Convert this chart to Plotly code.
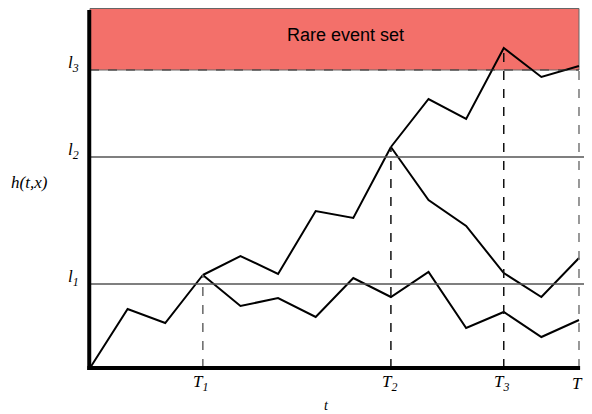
import plotly.graph_objects as go

# time steps
t_common = [0, 1, 2, 3]
h_common = [0.0, 5.9, 4.5, 9.3]

t_up1 = [3, 4, 5, 6, 7, 8]
h_up1 = [9.3, 11.2, 9.4, 15.7, 15.0, 22.1]

t_up2 = [8, 9, 10, 11, 12, 13]
h_up2 = [22.1, 26.9, 24.9, 32.0, 29.1, 30.2]

t_mid = [8, 9, 10, 11, 12, 13]
h_mid = [22.1, 16.8, 14.2, 9.5, 7.1, 11.0]

t_low = [3, 4, 5, 6, 7, 8, 9, 10, 11, 12, 13]
h_low = [9.3, 6.2, 7.0, 5.1, 9.0, 7.1, 9.6, 4.0, 5.6, 3.1, 4.8]

levels = [8.4, 21.1, 29.8]
level_labels = ["<i>l<sub>1</sub></i>", "<i>l<sub>2</sub></i>", "<i>l<sub>3</sub></i>"]
rare_top = 36.0

split_times = [3, 8, 11, 13]
split_h = [9.3, 22.1, 32.0, 29.8]
split_labels = ["<i>T<sub>1</sub></i>", "<i>T<sub>2</sub></i>", "<i>T<sub>3</sub></i>", "<i>T</i>"]
split_colors = ["#666666", "#111111", "#111111", "#777777"]

T_end = 13
x_min, x_max = -2.18, 13.346
y_min, y_max = -4.6, 36.0

SERIF = "Liberation Serif, Times New Roman, serif"

fig = go.Figure()

for xs, ys in [(t_common, h_common), (t_up1, h_up1), (t_up2, h_up2), (t_mid, h_mid), (t_low, h_low)]:
    fig.add_trace(go.Scatter(x=xs, y=ys, mode="lines", line=dict(color="black", width=2),
                             showlegend=False, hoverinfo="skip"))

shapes = []
# rare event set
shapes.append(dict(type="rect", xref="x", yref="y", x0=0, x1=T_end, y0=levels[2], y1=rare_top - 0.05,
                   fillcolor="#F3706A", line=dict(color="#666666", width=1), layer="below"))
shapes.append(dict(type="line", xref="x", yref="y", x0=0, x1=T_end, y0=levels[2], y1=levels[2],
                   line=dict(color="#333333", width=1, dash="dash")))
# level lines l1, l2
for lv in levels[:2]:
    shapes.append(dict(type="line", xref="x", yref="y", x0=0, x1=x_max, y0=lv, y1=lv,
                       line=dict(color="#555555", width=1.3)))
# dashed verticals
for tt, hh, col in zip(split_times, split_h, split_colors):
    shapes.append(dict(type="line", xref="x", yref="y", x0=tt, x1=tt, y0=0, y1=hh,
                       line=dict(color=col, width=1.5, dash="dash")))
# axes
shapes.append(dict(type="line", xref="x", yref="y", x0=-0.02, x1=-0.02, y0=-0.2, y1=35.8,
                   line=dict(color="black", width=4)))
shapes.append(dict(type="line", xref="x", yref="y", x0=-0.07, x1=T_end + 0.03, y0=0, y1=0,
                   line=dict(color="black", width=4)))

annotations = []
annotations.append(dict(x=6.78, y=33.3, xref="x", yref="y",
                        text="Rare event set", showarrow=False,
                        font=dict(family="Liberation Sans, Arial", size=18, color="black")))
for lv, lab in zip(levels, level_labels):
    annotations.append(dict(x=-0.25, y=lv + 0.6, xref="x", yref="y", text=lab, showarrow=False,
                            xanchor="right", yanchor="middle",
                            font=dict(family=SERIF, size=17, color="black")))
annotations.append(dict(x=-1.6, y=18.6, xref="x", yref="y", text="<i>h(t,x)</i>", showarrow=False,
                        xanchor="center", yanchor="middle",
                        font=dict(family=SERIF, size=17, color="black")))
for tt, lab in zip(split_times, split_labels):
    annotations.append(dict(x=tt - 0.05, y=-1.5, xref="x", yref="y", text=lab, showarrow=False,
                            xanchor="center", yanchor="middle",
                            font=dict(family=SERIF, size=17, color="black")))
annotations.append(dict(x=6.3, y=-3.75, xref="x", yref="y", text="<i>t</i>", showarrow=False,
                        xanchor="center", yanchor="middle",
                        font=dict(family=SERIF, size=14, color="black")))

fig.update_layout(
    width=584, height=406,
    margin=dict(l=0, r=0, t=0, b=0, pad=0),
    paper_bgcolor="white", plot_bgcolor="white",
    xaxis=dict(range=[x_min, x_max], visible=False, fixedrange=True),
    yaxis=dict(range=[y_min, y_max], visible=False, fixedrange=True),
    shapes=shapes, annotations=annotations,
    showlegend=False,
)

fig.write_html("out.html")
